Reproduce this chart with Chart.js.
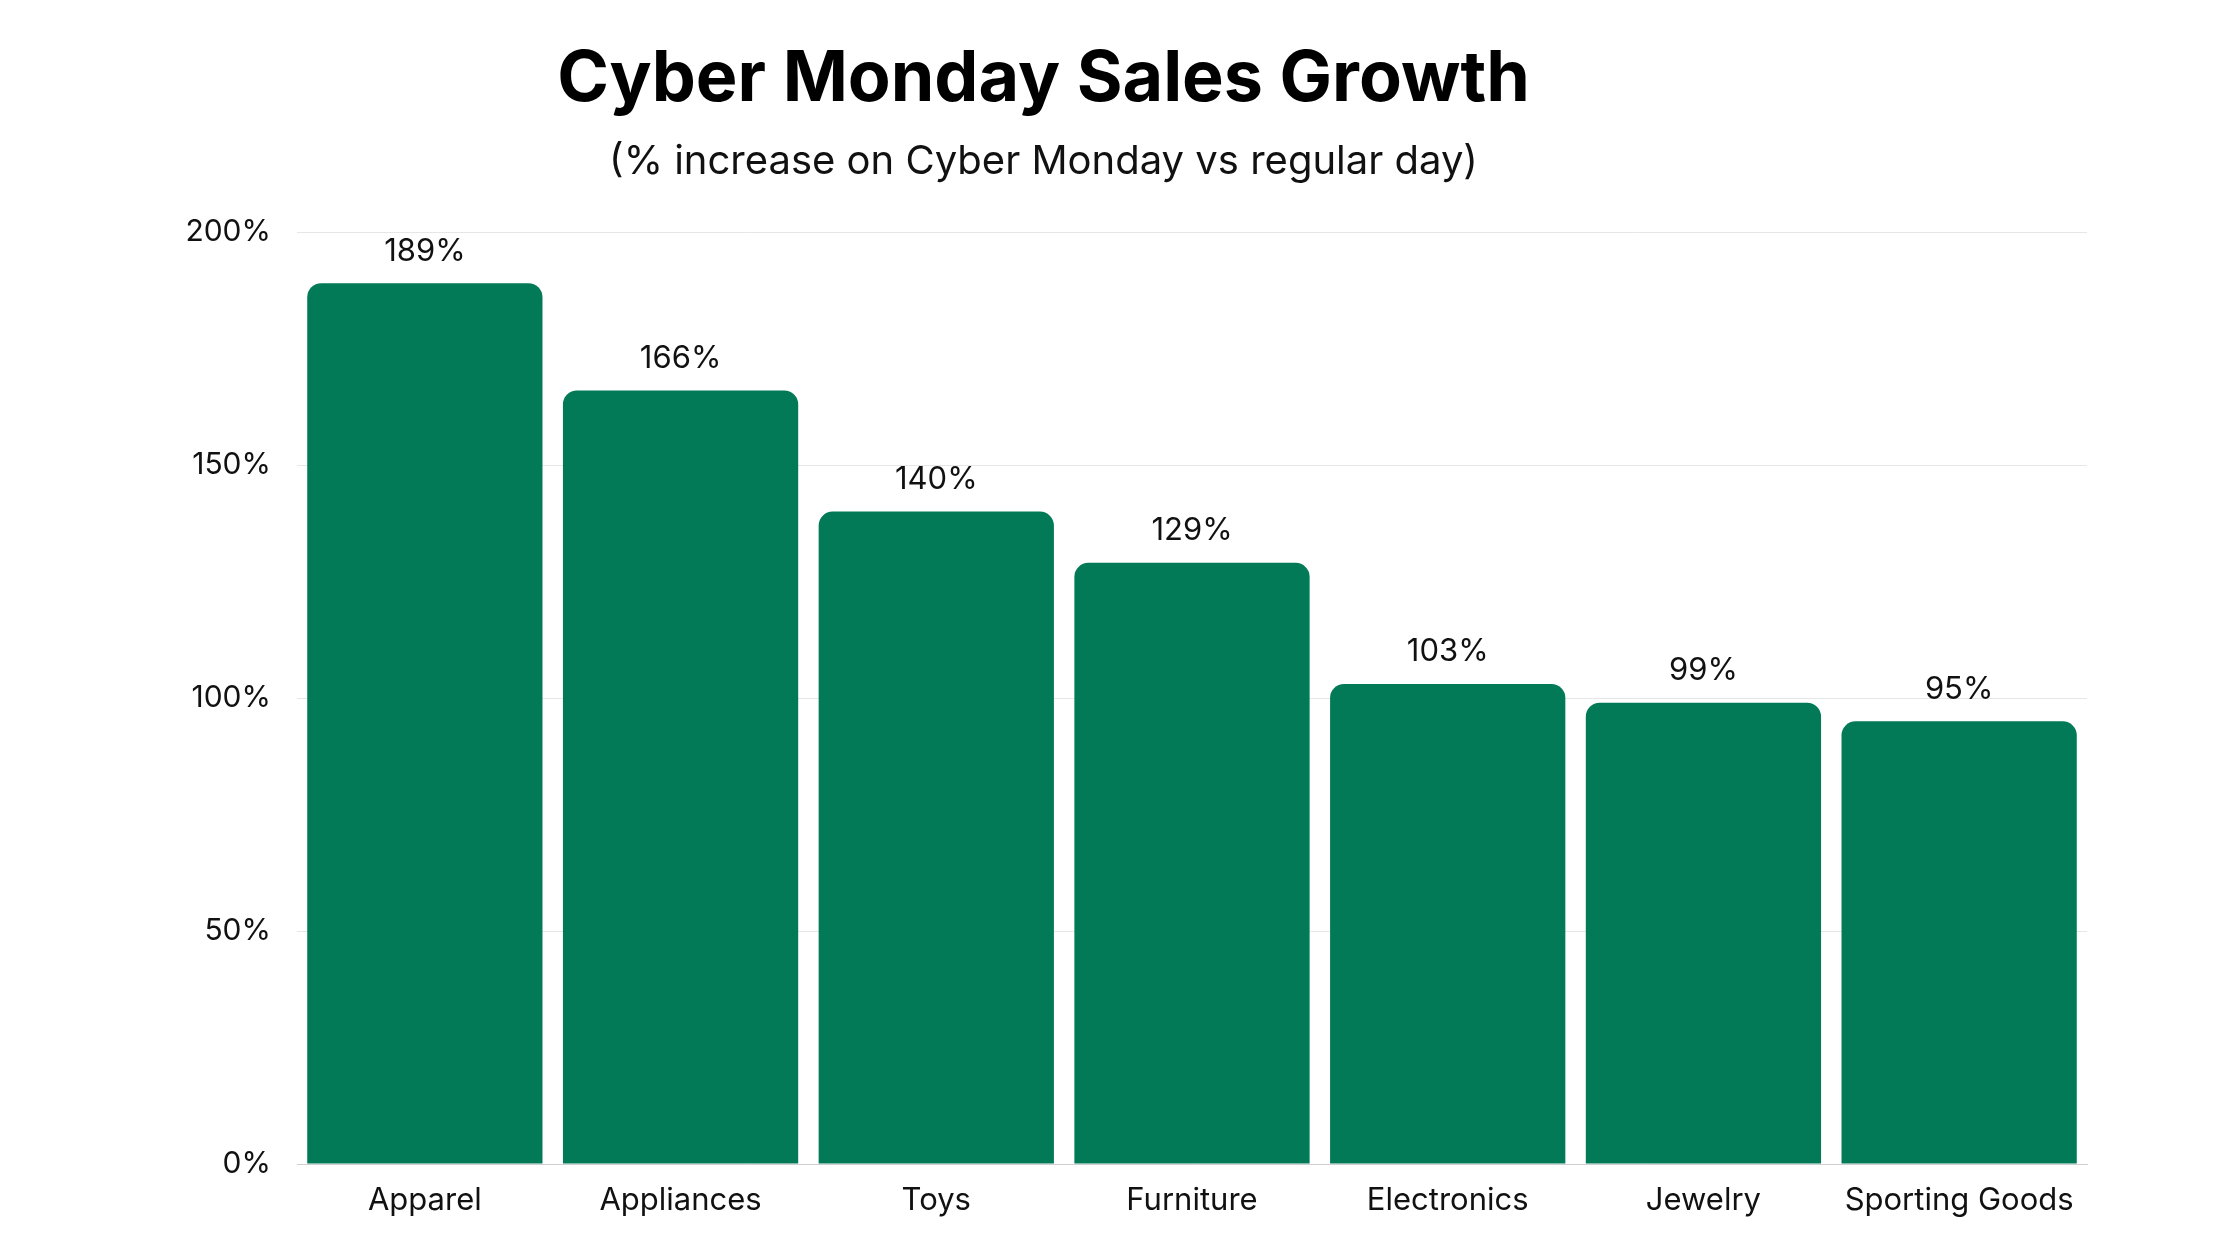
<!DOCTYPE html>
<html>
<head>
<meta charset="utf-8">
<script src="https://cdn.jsdelivr.net/npm/chart.js@4"></script>
<style>
  html, body { margin: 0; padding: 0; background: #fff; }
  #wrap { width: 2240px; height: 1260px; }
</style>
</head>
<body>
<div id="wrap"><canvas id="chart"></canvas></div>
<script>
const categories = ["Apparel", "Appliances", "Toys", "Furniture", "Electronics", "Jewelry", "Sporting Goods"];
const growth = [189, 166, 140, 129, 103, 99, 95];
const yTicks = [0, 50, 100, 150, 200];

const FONT = "Inter, 'Noto Sans', sans-serif";

// value labels above bars
const barLabels = {
    id: "barLabels",
    afterDatasetsDraw(chart) {
        const ctx = chart.ctx;
        const meta = chart.getDatasetMeta(0);
        ctx.save();
        ctx.fillStyle = "#111";
        ctx.font = "31px " + FONT;
        ctx.textAlign = "center";
        ctx.textBaseline = "middle";
        meta.data.forEach((bar, i) => {
            ctx.fillText(growth[i] + "%", bar.x, bar.y - 32);
        });
        ctx.restore();
    }
};

new Chart(document.getElementById("chart"), {
    type: "bar",
    data: {
        labels: categories,
        datasets: [{
            data: growth,
            backgroundColor: "#037A57",
            borderRadius: { topLeft: 14, topRight: 14 },
            borderSkipped: "bottom",
            categoryPercentage: 0.92,
            barPercentage: 1
        }]
    },
    options: {
        responsive: true,
        maintainAspectRatio: false,
        animation: false,
        layout: { padding: { left: 0, right: 153, top: 0, bottom: 0 } },
        plugins: {
            legend: { display: false },
            tooltip: { enabled: false },
            title: {
                display: true,
                text: "Cyber Monday Sales Growth",
                color: "#000",
                font: { family: FONT, size: 70, weight: "bold" },
                padding: { top: 38, bottom: 16 }
            },
            subtitle: {
                display: true,
                text: "(% increase on Cyber Monday vs regular day)",
                color: "#111",
                font: { family: FONT, size: 40 },
                padding: { top: 0, bottom: 46 }
            }
        },
        scales: {
            x: {
                grid: { display: false },
                border: { color: "#cfcfcf" },
                ticks: { color: "#111", font: { family: FONT, size: 31 }, padding: 10, maxRotation: 0 },
                afterFit(scale) { scale.height = 96; }
            },
            y: {
                min: 0,
                max: 200,
                afterBuildTicks(scale) { scale.ticks = yTicks.map(v => ({ value: v })); },
                grid: { color: "#e6e6e6", drawTicks: false },
                border: { display: false },
                ticks: {
                    color: "#111",
                    font: { family: FONT, size: 30 },
                    padding: 26,
                    callback: v => v + "%"
                },
                afterFit(scale) { scale.width = 297; }
            }
        }
    },
    plugins: [barLabels]
});
</script>
</body>
</html>
